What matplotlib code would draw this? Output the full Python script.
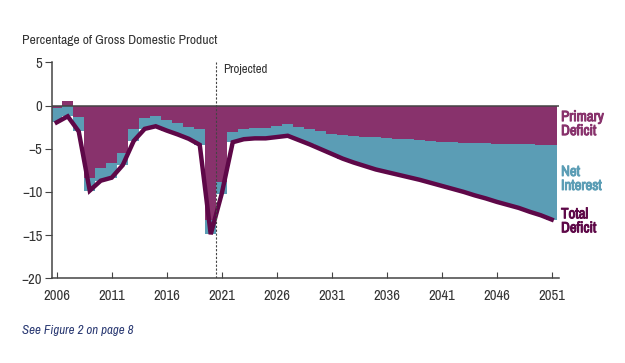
import matplotlib
matplotlib.use("Agg")
import matplotlib.pyplot as plt
import matplotlib.patheffects as pe
from matplotlib import font_manager
import numpy as np

# pick a narrow sans if one is installed, else Liberation Sans
names = sorted({f.name for f in font_manager.fontManager.ttflist})
narrow = [n for n in names if 'Narrow' in n or 'Condensed' in n]
base = narrow[0] if narrow else 'Liberation Sans'
plt.rcParams['font.family'] = [base, 'DejaVu Sans']
plt.rcParams['font.stretch'] = 'condensed'

# years shown on the chart
years = np.arange(2006, 2052)

# primary balance, % of GDP (negative = deficit)
primary = [-0.3, 0.5, -1.3, -8.4, -7.2, -6.7, -5.5, -2.7, -1.45, -1.2,
           -1.65, -2.0, -2.5, -2.7, -13.3, -8.85, -3.05, -2.75, -2.6, -2.6,
           -2.35, -2.1, -2.5, -2.7, -2.9, -3.25, -3.4, -3.5, -3.6, -3.7,
           -3.75, -3.85, -3.9, -4.0, -4.05, -4.2, -4.25, -4.3, -4.35, -4.35,
           -4.4, -4.4, -4.5, -4.5, -4.6, -4.6]

# total deficit, % of GDP
total = [-1.95, -1.25, -3.0, -9.85, -8.7, -8.35, -6.9, -4.1, -2.7, -2.4,
         -2.9, -3.35, -3.85, -4.55, -14.9, -10.2, -4.25, -3.9, -3.8, -3.8,
         -3.65, -3.5, -4.0, -4.5, -5.05, -5.6, -6.15, -6.6, -7.0, -7.4,
         -7.7, -8.0, -8.3, -8.6, -8.95, -9.3, -9.65, -10.0, -10.4, -10.75,
         -11.15, -11.5, -11.85, -12.3, -12.7, -13.2]

xticks = [2006, 2011, 2016, 2021, 2026, 2031, 2036, 2041, 2046, 2051]
yticks = [5, 0, -5, -10, -15, -20]

purple = '#88326c'
teal = '#5b9db5'
dark = '#5e0848'
grey = '#444444'

primary = np.array(primary)
total = np.array(total)
teal_top = np.minimum(primary, 0)
edges = np.append(years - 0.5, years[-1] + 0.5)

fig = plt.figure(figsize=(6.25, 3.63), dpi=100)
ax = fig.add_axes([0.0832, 0.2333, 0.8112, 0.595])

ax.stairs(primary, edges, baseline=0, fill=True, color=purple, lw=0, zorder=2)
ax.stairs(total, edges, baseline=teal_top, fill=True, color=teal, lw=0, zorder=2)
ax.plot(years, total, color=dark, lw=3.2, solid_joinstyle='miter', zorder=4)
ax.axhline(0, color=grey, lw=1.1, zorder=3)

# projection divider
ax.axvline(2020.5, color=grey, lw=0.8, ls=(0, (2, 1.5)), zorder=5)
ax.text(2021.1, 4.2, 'Projected', fontsize=9.3, color='#333333', va='center', ha='left')

ax.set_xlim(2005.57, 2051.66)
ax.set_ylim(-20, 5)
ax.set_xticks(xticks)
ax.set_yticks(yticks)
ax.set_yticklabels(['5', '0', '\u22125', '\u221210', '\u221215', '\u221220'])
ax.tick_params(axis='x', direction='in', length=4, width=0.8, color=grey,
               labelsize=10.5, labelcolor='#333333', pad=8)
ax.tick_params(axis='y', direction='out', length=5, width=0.8, color=grey,
               labelsize=10.5, labelcolor='#333333', pad=2)
for s in ['top', 'right']:
    ax.spines[s].set_visible(False)
for s in ['left', 'bottom']:
    ax.spines[s].set_color(grey)
    ax.spines[s].set_linewidth(1.1)

# series labels at the right (stroke gives a heavier weight)
for label, yv, col in [('Primary\nDeficit', -2.15, purple),
                       ('Net\nInterest', -8.5, teal),
                       ('Total\nDeficit', -13.4, dark)]:
    ax.text(2051.85, yv, label, color=col, fontsize=10.7, fontweight='bold',
            va='center', ha='left', linespacing=1.0,
            path_effects=[pe.withStroke(linewidth=0.7, foreground=col)])

fig.text(22 / 625, 1 - 40 / 363, 'Percentage of Gross Domestic Product',
         fontsize=9.8, color='#333333', va='center', ha='left')
fig.text(22 / 625, 1 - 331 / 363, 'See Figure 2 on page 8', fontsize=9.3,
         style='italic', color='#2b3a73', va='center', ha='left')

fig.savefig('out.png', dpi=100)
